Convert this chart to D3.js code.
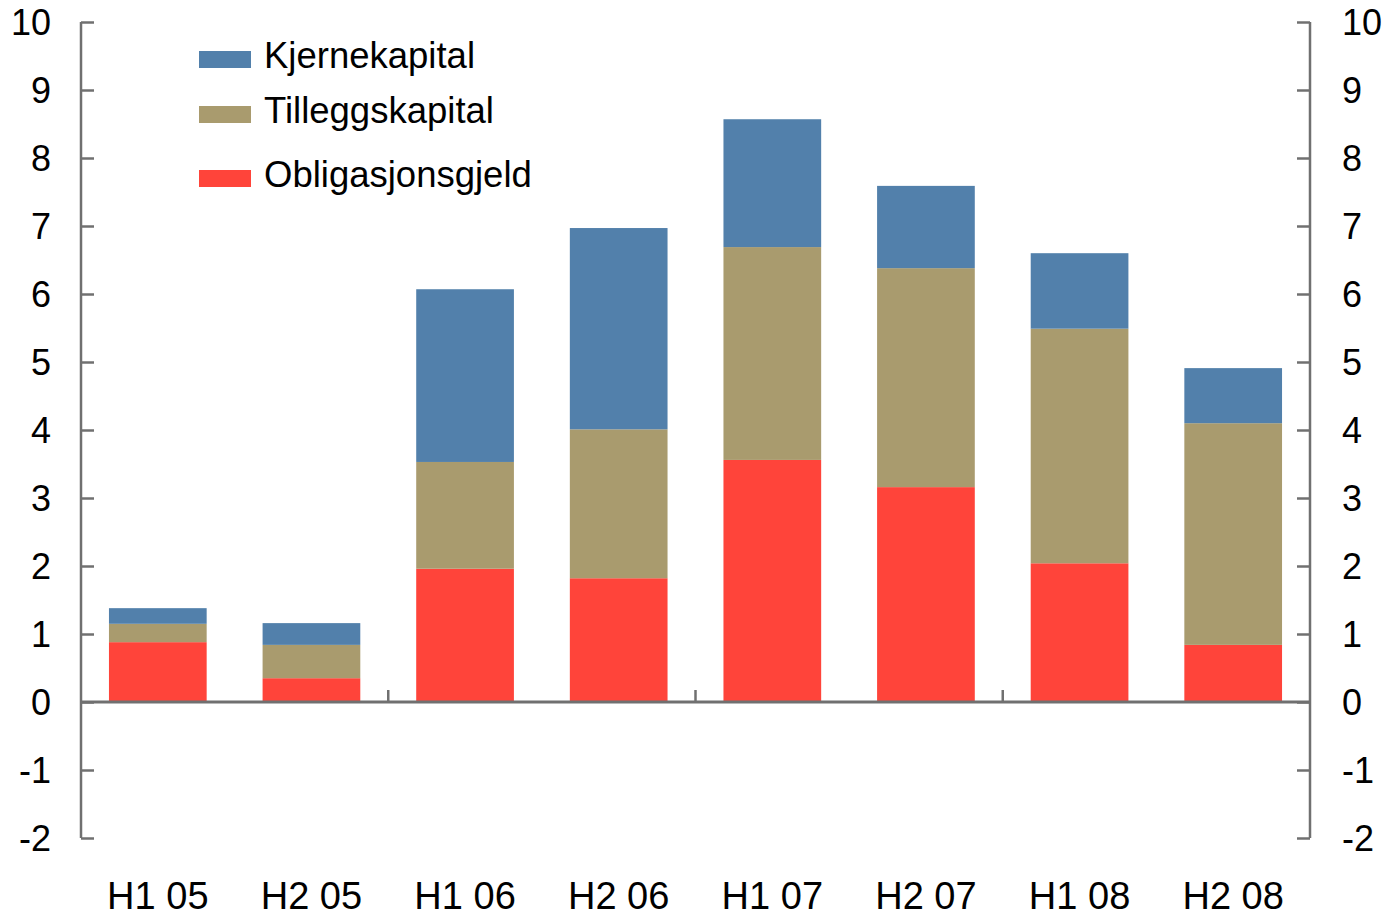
<!DOCTYPE html>
<html><head><meta charset="utf-8">
<script src="https://cdn.jsdelivr.net/npm/d3@7"></script>
<style>body{margin:0;background:#fff}svg{display:block}</style>
</head><body><svg id="c" width="1391" height="916"></svg>
<script>
const categories = ["H1 05","H2 05","H1 06","H2 06","H1 07","H2 07","H1 08","H2 08"];
const obligasjonsgjeld = [0.88,0.35,1.96,1.82,3.56,3.16,2.04,0.84];
const tilleggskapital  = [0.27,0.49,1.57,2.19,3.13,3.22,3.45,3.26];
const kjernekapital    = [0.23,0.32,2.54,2.96,1.88,1.21,1.11,0.81];
const seriesNames = ["Obligasjonsgjeld","Tilleggskapital","Kjernekapital"];
const seriesColors = ["#ff443a","#a99b6e","#5280ab"];
const legendOrder = ["Kjernekapital","Tilleggskapital","Obligasjonsgjeld"];
const yTicks = [-2,-1,0,1,2,3,4,5,6,7,8,9,10];
const yearBoundaries = [2,4,6];

const svg = d3.select("#c");
const L = 81, R = 1310, T = 22, B = 838;
const font = "'Liberation Sans', Arial, sans-serif";
const axisColor = "#707070";

const x = d3.scaleBand().domain(categories).range([L, R]).paddingInner(0.364).paddingOuter(0.182);
const y = d3.scaleLinear().domain([-2, 10]).range([B, T]);

const rows = categories.map((c,i)=>({cat:c, Obligasjonsgjeld:obligasjonsgjeld[i], Tilleggskapital:tilleggskapital[i], Kjernekapital:kjernekapital[i]}));
const stack = d3.stack().keys(seriesNames)(rows);
const color = d3.scaleOrdinal().domain(seriesNames).range(seriesColors);

svg.append("g").selectAll("g").data(stack).join("g")
  .attr("fill", d=>color(d.key))
  .selectAll("rect").data(d=>d).join("rect")
  .attr("x", d=>x(d.data.cat))
  .attr("width", x.bandwidth())
  .attr("y", d=>y(d[1]))
  .attr("height", d=>y(d[0])-y(d[1]));

// left axis
const yl = svg.append("g").attr("transform",`translate(${L},0)`)
  .call(d3.axisRight(y).tickValues(yTicks).tickSize(13).tickFormat(""));
yl.select(".domain").remove();
yl.selectAll("line").attr("stroke",axisColor).attr("stroke-width",2.5);
svg.append("line").attr("x1",L).attr("x2",L).attr("y1",y(10)).attr("y2",y(-2)).attr("stroke",axisColor).attr("stroke-width",2.5);
const yr = svg.append("g").attr("transform",`translate(${R},0)`)
  .call(d3.axisLeft(y).tickValues(yTicks).tickSize(13).tickFormat(""));
yr.select(".domain").remove();
yr.selectAll("line").attr("stroke",axisColor).attr("stroke-width",2.5);
svg.append("line").attr("x1",R).attr("x2",R).attr("y1",y(10)).attr("y2",y(-2)).attr("stroke",axisColor).attr("stroke-width",2.5);

// tick labels
svg.append("g").selectAll("text").data(yTicks).join("text")
  .attr("x",51).attr("y",d=>y(d)).attr("dy","0.36em")
  .attr("text-anchor","end").attr("font-family",font).attr("font-size",36).attr("fill","#000")
  .text(d=>d);
svg.append("g").selectAll("text").data(yTicks).join("text")
  .attr("x",1342).attr("y",d=>y(d)).attr("dy","0.36em")
  .attr("text-anchor","start").attr("font-family",font).attr("font-size",36).attr("fill","#000")
  .text(d=>d);

// zero line with year ticks
svg.append("line").attr("x1",L).attr("x2",R).attr("y1",y(0)).attr("y2",y(0)).attr("stroke",axisColor).attr("stroke-width",3);
svg.append("g").selectAll("line").data(yearBoundaries).join("line")
  .attr("x1",i=>x(categories[i]) - x.step()*x.paddingInner()/2)
  .attr("x2",i=>x(categories[i]) - x.step()*x.paddingInner()/2)
  .attr("y1",y(0)).attr("y2",y(0)-12)
  .attr("stroke",axisColor).attr("stroke-width",2.5);

// category labels
const xa = svg.append("g").attr("transform",`translate(0,${B})`)
  .call(d3.axisBottom(x).tickSize(0).tickPadding(0));
xa.select(".domain").remove();
xa.selectAll("text").attr("font-family",font).attr("font-size",38).attr("fill","#000")
  .attr("y",71).attr("dy",0);

// legend
const legY = [68, 123, 187];
const lg = svg.append("g");
legendOrder.forEach((k,i)=>{
  lg.append("rect").attr("x",199).attr("y",legY[i]-17).attr("width",52).attr("height",17).attr("fill",color(k));
  lg.append("text").attr("x",264).attr("y",legY[i]).attr("font-family",font).attr("font-size",36.5).attr("fill","#000").text(k);
});
</script></body></html>
